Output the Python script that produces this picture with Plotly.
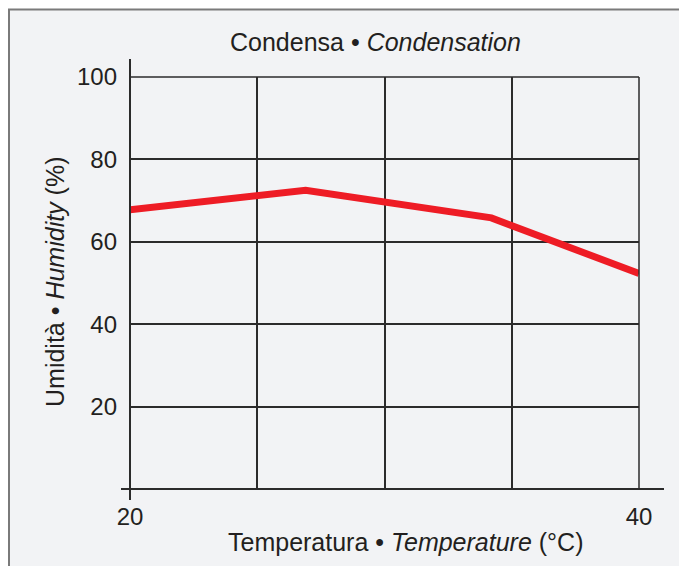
import plotly.graph_objects as go

# Data
temperature = [20, 26.9, 34.2, 40]
humidity = [67.8, 72.5, 65.8, 52.3]

x_tickvals = [20, 25, 30, 35, 40]
x_ticktext = ["20", "", "", "", "40"]
y_tickvals = [20, 40, 60, 80, 100]
y_ticktext = ["20", "40", "60", "80", "100"]

title_text = "Condensa • <i>Condensation</i>"
x_title = "Temperatura • <i>Temperature</i> (°C)"
y_title = "Umidità • <i>Humidity</i> (%)"

# The page body has an 8px margin, so the figure is drawn 8px in from the
# top-left corner of the window. Page pixel positions are converted below.
OFF = 8
W, H = 687 - OFF, 566 - OFF
PL, PR, PT, PB = 130, 639, 77, 489  # plot area in page pixels
L, R, T, B = PL - OFF, W - (PR - OFF), PT - OFF, H - (PB - OFF)
pw, ph = W - L - R, H - T - B

def px_x(p):
    return (p - OFF - L) / pw

def px_y(p):
    return (H - B - (p - OFF)) / ph

FONT = "Liberation Sans, Arial, Helvetica, sans-serif"
TXT = "#231f20"
GRID = "#2b2b2b"
BG = "#f2f3f5"

fig = go.Figure()
fig.add_trace(go.Scatter(
    x=temperature, y=humidity, mode="lines",
    line=dict(color="#ee1c25", width=7),
    hoverinfo="skip", showlegend=False, cliponaxis=False,
))

shapes = [
    # panel background with border on top and left
    dict(type="rect", xref="paper", yref="paper",
         x0=px_x(9), x1=px_x(720), y0=px_y(600), y1=px_y(9.5),
         fillcolor=BG, line=dict(color="#7a7a7a", width=2), layer="below"),
    # top frame line (100) and right frame line (40)
    dict(type="line", xref="paper", yref="paper",
         x0=0, x1=1, y0=1, y1=1, line=dict(color=GRID, width=1.5)),
    dict(type="line", xref="paper", yref="paper",
         x0=1, x1=1, y0=0, y1=1, line=dict(color=GRID, width=1.5)),
    # y axis line (extends beyond plot)
    dict(type="line", xref="paper", yref="paper",
         x0=0, x1=0, y0=px_y(500), y1=px_y(59),
         line=dict(color=GRID, width=2)),
    # x axis line
    dict(type="line", xref="paper", yref="paper",
         x0=px_x(121), x1=px_x(664), y0=0, y1=0,
         line=dict(color=GRID, width=2)),
]

annotations = [
    dict(text=title_text, xref="paper", yref="paper",
         x=px_x(375), y=px_y(42), showarrow=False,
         font=dict(size=25, color=TXT, family=FONT), xanchor="center", yanchor="middle"),
    dict(text=x_title, xref="paper", yref="paper",
         x=px_x(405), y=px_y(542), showarrow=False,
         font=dict(size=25, color=TXT, family=FONT), xanchor="center", yanchor="middle"),
    dict(text=y_title, xref="paper", yref="paper",
         x=px_x(55), y=px_y(282), showarrow=False, textangle=-90,
         font=dict(size=25, color=TXT, family=FONT), xanchor="center", yanchor="middle"),
]

fig.update_layout(
    width=W, height=H,
    margin=dict(l=L, r=R, t=T, b=B, pad=0),
    paper_bgcolor="white",
    plot_bgcolor="rgba(0,0,0,0)",
    font=dict(family=FONT, size=24, color=TXT),
    shapes=shapes,
    annotations=annotations,
    showlegend=False,
)
fig.update_xaxes(
    range=[20, 40], tickvals=x_tickvals, ticktext=x_ticktext,
    showgrid=True, gridcolor=GRID, gridwidth=1.5,
    zeroline=False, showline=False, ticks="", ticklabelstandoff=11,
    tickfont=dict(size=24, color=TXT, family=FONT), fixedrange=True,
    automargin=False,
)
fig.update_yaxes(
    range=[0, 100], tickvals=y_tickvals, ticktext=y_ticktext,
    showgrid=True, gridcolor=GRID, gridwidth=1.5,
    zeroline=False, showline=False, ticks="", ticklabelstandoff=12,
    tickfont=dict(size=24, color=TXT, family=FONT), fixedrange=True,
    automargin=False,
)

fig.write_html("out.html")
